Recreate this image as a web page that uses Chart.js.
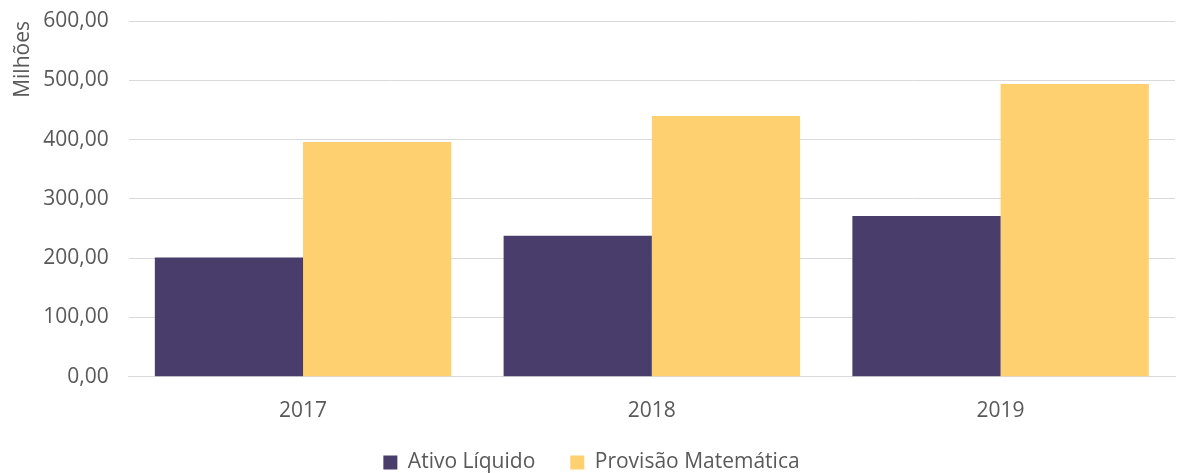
<!DOCTYPE html>
<html>
<head>
<meta charset="utf-8">
<script src="https://cdn.jsdelivr.net/npm/chart.js@4"></script>
<style>
  html, body { margin: 0; padding: 0; background: #fff; }
  #wrap { width: 1189px; height: 473px; }
</style>
</head>
<body>
<div id="wrap"><canvas id="barChart"></canvas></div>
<script>
const years = ['2017', '2018', '2019'];
const ativoLiquido = [201, 238, 271];
const provisaoMatematica = [396, 440, 494];

Chart.defaults.font.family = "'Open Sans', 'Liberation Sans', sans-serif";
Chart.defaults.color = '#595959';

const ctxBar = document.getElementById('barChart').getContext('2d');
const barChart = new Chart(ctxBar, {
    type: 'bar',
    data: {
        labels: years,
        datasets: [{
            label: 'Ativo Líquido',
            data: ativoLiquido,
            backgroundColor: '#483D6B',
            borderWidth: 0
        }, {
            label: 'Provisão Matemática',
            data: provisaoMatematica,
            backgroundColor: '#FFD06F',
            borderWidth: 0
        }]
    },
    options: {
        responsive: true,
        maintainAspectRatio: false,
        animation: false,
        layout: { padding: { top: 0, right: 14, left: 8, bottom: -10 } },
        datasets: { bar: { categoryPercentage: 0.85, barPercentage: 1 } },
        scales: {
            x: {
                grid: { display: false },
                border: { color: '#D9D9D9' },
                ticks: { font: { size: 21 }, padding: 14 }
            },
            y: {
                min: 0,
                max: 600,
                ticks: {
                    stepSize: 100,
                    // small lineHeight keeps the top padding tight (paddingTop = height/2 + padding)
                    font: { size: 21, lineHeight: 0.1 },
                    padding: 20,
                    callback: v => v.toLocaleString('pt-BR', { minimumFractionDigits: 2, maximumFractionDigits: 2 })
                },
                grid: { color: '#D9D9D9', drawTicks: false },
                border: { display: false },
                title: { display: true, text: 'Milhões', align: 'end', font: { size: 21 }, padding: { top: 2, bottom: -12 } }
            }
        },
        plugins: {
            legend: {
                position: 'bottom',
                labels: {
                    font: { size: 21 },
                    boxWidth: 14,
                    boxHeight: 14,
                    padding: 14,
                    generateLabels: chart => {
                        const items = Chart.defaults.plugins.legend.labels.generateLabels(chart);
                        items.forEach((it, i) => { if (i < items.length - 1) it.text += '\u2003'; });
                        return items;
                    }
                }
            },
            tooltip: { enabled: false }
        }
    }
});
</script>
</body>
</html>
